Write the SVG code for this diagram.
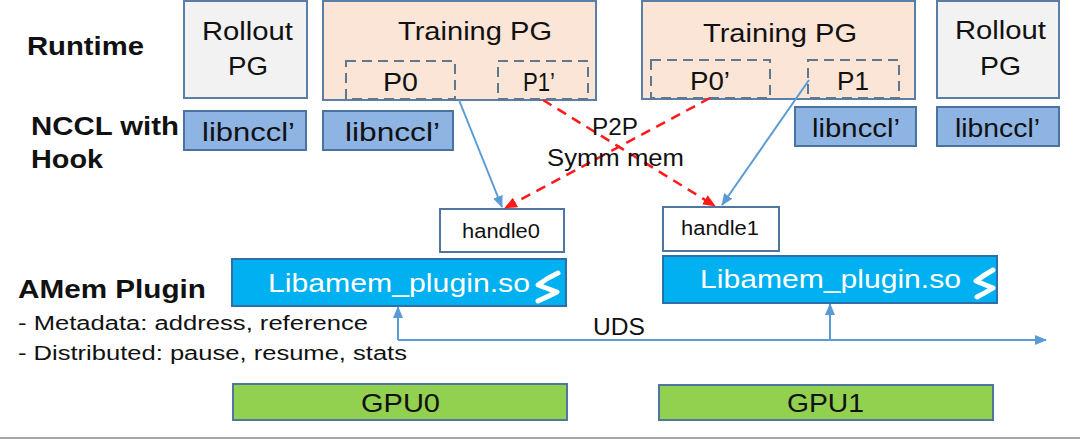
<svg xmlns="http://www.w3.org/2000/svg" width="1080" height="439" viewBox="0 0 1080 439">
<defs>
<style>
text{font-family:"Liberation Sans",Arial,sans-serif;fill:#111}
.b{font-weight:bold;font-size:26px}
.lbl{font-size:25px}
.nc{font-size:26px}
.sm{font-size:20px}
.rollout{fill:#f2f2f2;stroke:#5a7ea6;stroke-width:2}
.train{fill:#fbe5d6;stroke:#5a7ea6;stroke-width:2}
.nccl{fill:#8eb4e3;stroke:#4a73a0;stroke-width:2}
.part{fill:none;stroke:#5f7890;stroke-width:2;stroke-dasharray:10 6}
.handle{fill:#fff;stroke:#4f76a0;stroke-width:2}
.plugin{fill:#00b0f0;stroke:#2f6fa8;stroke-width:2}
.gpu{fill:#92d050;stroke:#4f76a0;stroke-width:2}
.white{fill:#fff}
.icon{fill:none;stroke:#fff;stroke-width:5;stroke-linecap:round;stroke-linejoin:round}
.blue{fill:none;stroke:#5b9bd5;stroke-width:2}
.red{fill:none;stroke:#ff1a1a;stroke-width:2.5;stroke-dasharray:10 7}
</style>
<marker id="ab" viewBox="0 0 12 10" refX="11" refY="5" markerWidth="12" markerHeight="10" markerUnits="userSpaceOnUse" orient="auto"><path d="M0,0 L12,5 L0,10 Z" fill="#5b9bd5"/></marker>
<marker id="ar" viewBox="0 0 12 10" refX="11" refY="5" markerWidth="13" markerHeight="11" markerUnits="userSpaceOnUse" orient="auto"><path d="M0,0 L12,5 L0,10 Z" fill="#ff1a1a"/></marker>
</defs>
<rect width="1080" height="439" fill="#fff"/>

<g id="labels">
<text class="b" x="27" y="55" textLength="117" lengthAdjust="spacingAndGlyphs">Runtime</text>
<text class="b" x="31" y="135" textLength="148" lengthAdjust="spacingAndGlyphs">NCCL with</text>
<text class="b" x="31" y="168" textLength="72" lengthAdjust="spacingAndGlyphs">Hook</text>
<text class="b" x="18" y="298" textLength="188" lengthAdjust="spacingAndGlyphs">AMem Plugin</text>
<text class="sm" x="18" y="330" textLength="350" lengthAdjust="spacingAndGlyphs">- Metadata: address, reference</text>
<text class="sm" x="18" y="360" textLength="389" lengthAdjust="spacingAndGlyphs">- Distributed: pause, resume, stats</text>
</g>

<g id="rollout0">
<rect class="rollout" x="184" y="1" width="123" height="97"/>
<text class="lbl" x="202" y="40" textLength="91" lengthAdjust="spacingAndGlyphs">Rollout</text>
<text class="lbl" x="228" y="75" textLength="40" lengthAdjust="spacingAndGlyphs">PG</text>
</g>
<g id="nccl0">
<rect class="nccl" x="184" y="111" width="122" height="39"/>
<text class="nc" x="202" y="141" textLength="93" lengthAdjust="spacingAndGlyphs">libnccl’</text>
</g>

<g id="training0">
<rect class="train" x="323" y="1" width="273" height="99"/>
<text class="lbl" x="398" y="40" textLength="154" lengthAdjust="spacingAndGlyphs">Training PG</text>
<rect class="part" x="346" y="61" width="109" height="38"/>
<text class="lbl" x="383" y="91" textLength="35" lengthAdjust="spacingAndGlyphs">P0</text>
<rect class="part" x="498" y="61" width="90" height="38"/>
<text class="lbl" x="523" y="91" textLength="32" lengthAdjust="spacingAndGlyphs">P1’</text>
</g>
<g id="nccl1">
<rect class="nccl" x="323" y="111" width="130" height="39"/>
<text class="nc" x="345" y="141" textLength="95" lengthAdjust="spacingAndGlyphs">libnccl’</text>
</g>

<g id="training1">
<rect class="train" x="642" y="1" width="273" height="98"/>
<text class="lbl" x="703" y="42" textLength="154" lengthAdjust="spacingAndGlyphs">Training PG</text>
<rect class="part" x="651" y="60" width="119" height="38"/>
<text class="lbl" x="690" y="90" textLength="40" lengthAdjust="spacingAndGlyphs">P0’</text>
<rect class="part" x="808" y="60" width="91" height="38"/>
<text class="lbl" x="837" y="90" textLength="32" lengthAdjust="spacingAndGlyphs">P1</text>
</g>
<g id="nccl2">
<rect class="nccl" x="795" y="107" width="121" height="39"/>
<text class="nc" x="812" y="137" textLength="88" lengthAdjust="spacingAndGlyphs">libnccl’</text>
</g>

<g id="rollout1">
<rect class="rollout" x="937" y="1" width="122" height="97"/>
<text class="lbl" x="955" y="39" textLength="91" lengthAdjust="spacingAndGlyphs">Rollout</text>
<text class="lbl" x="980" y="75" textLength="41" lengthAdjust="spacingAndGlyphs">PG</text>
</g>
<g id="nccl3">
<rect class="nccl" x="937" y="107" width="122" height="39"/>
<text class="nc" x="955" y="137" textLength="85" lengthAdjust="spacingAndGlyphs">libnccl’</text>
</g>

<g id="handle0">
<rect class="handle" x="440" y="209" width="124" height="43"/>
<text class="sm" x="462" y="238" textLength="78" lengthAdjust="spacingAndGlyphs">handle0</text>
</g>
<g id="handle1">
<rect class="handle" x="663" y="207" width="116" height="44"/>
<text class="sm" x="681" y="235" textLength="78" lengthAdjust="spacingAndGlyphs">handle1</text>
</g>

<g id="plugin0">
<rect class="plugin" x="232" y="259" width="334" height="47"/>
<text class="lbl white" x="268" y="292" textLength="262" lengthAdjust="spacingAndGlyphs">Libamem_plugin.so</text>
<path class="icon" d="M558,273 Q547,278 538,285 L557,292 Q547,297 538,301"/>
</g>
<g id="plugin1">
<rect class="plugin" x="663" y="256" width="334" height="47"/>
<text class="lbl white" x="700" y="288" textLength="261" lengthAdjust="spacingAndGlyphs">Libamem_plugin.so</text>
<path class="icon" d="M993,270 Q984,275 976,281 L993,288 Q985,293 977,297"/>
</g>

<g id="gpu0">
<rect class="gpu" x="233" y="384" width="334" height="36"/>
<text class="lbl" x="361" y="412" textLength="79" lengthAdjust="spacingAndGlyphs">GPU0</text>
</g>
<g id="gpu1">
<rect class="gpu" x="659" y="385" width="334" height="35"/>
<text class="lbl" x="787" y="412" textLength="77" lengthAdjust="spacingAndGlyphs">GPU1</text>
</g>

<g id="connectors">
<line class="blue" x1="459" y1="100" x2="502" y2="207" marker-end="url(#ab)"/>
<line class="blue" x1="809" y1="80" x2="722" y2="205" marker-end="url(#ab)"/>
<line class="red" x1="543" y1="100" x2="715" y2="206" marker-end="url(#ar)"/>
<line class="red" x1="710" y1="98" x2="505" y2="208" marker-end="url(#ar)"/>
<polyline class="blue" points="398,340 1046,340" marker-end="url(#ab)"/>
<line class="blue" x1="398" y1="340" x2="398" y2="307" marker-end="url(#ab)"/>
<line class="blue" x1="830" y1="340" x2="830" y2="304" marker-end="url(#ab)"/>
<text class="lbl" x="592" y="135" textLength="46" lengthAdjust="spacingAndGlyphs" style="font-size:23px">P2P</text>
<text class="lbl" x="547" y="166" textLength="137" lengthAdjust="spacingAndGlyphs" style="font-size:23px">Symm mem</text>
<text class="lbl" x="593" y="335" textLength="52" lengthAdjust="spacingAndGlyphs" style="font-size:23px">UDS</text>
</g>
<line x1="0" y1="438" x2="1080" y2="438" stroke="#8a8a8a" stroke-width="1.5"/>
</svg>
